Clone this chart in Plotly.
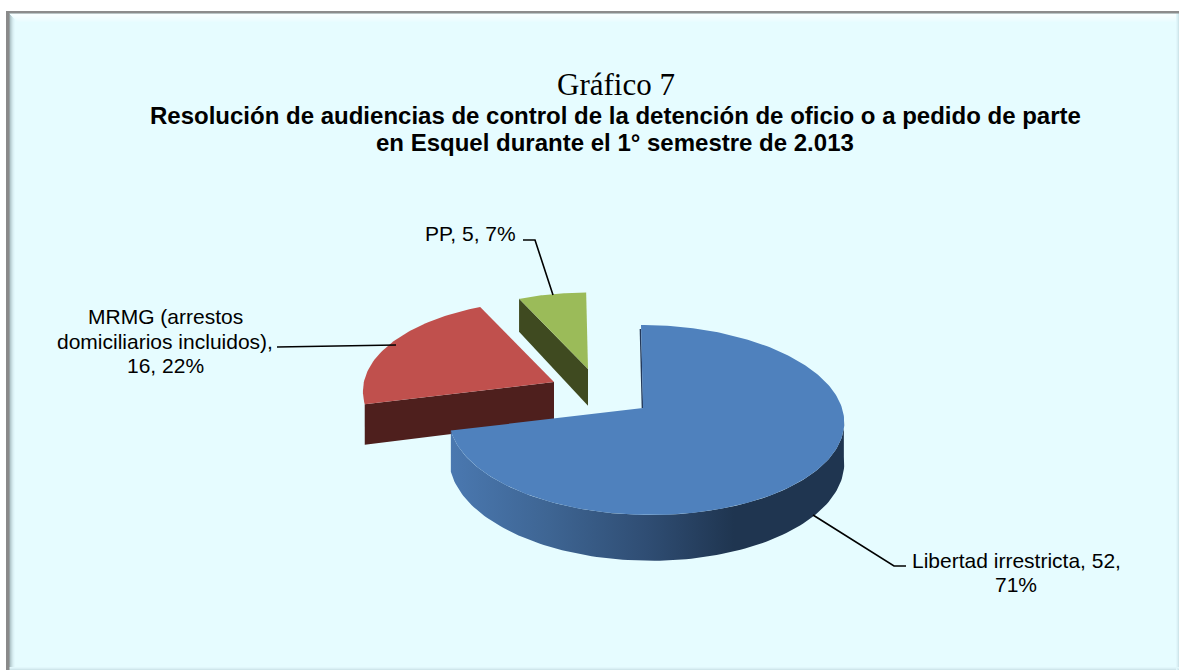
import numpy as np
import plotly.graph_objects as go

# ---- data ----
categories = ["Libertad irrestricta", "MRMG (arrestos domiciliarios incluidos)", "PP"]
counts = [52, 16, 5]
percent_labels = ["71%", "22%", "7%"]
title_top = "Gráfico 7"
title_lines = [
    "Resolución de audiencias de control de la detención de oficio o a pedido de parte",
    "en Esquel durante el 1° semestre de 2.013",
]

# ---- style ----
top_colors = ["#4F81BD", "#C0504D", "#9BBB59"]
wall_colors = [None, "#4E1F1D", "#3F4A20"]
bg = "#E6FCFF"
W, H = 1179, 670

# ---- perspective model of the exploded pie (in figure pixels) ----
apex = [(643, 408), (554, 382), (588, 369)]
scale = [1.0, 0.985, 0.92]
K, B, A, DEPTH = 196.0, 93.5, 0.126, 40.0


def rim(i, theta_deg, r=1.0):
    t = np.radians(theta_deg)
    X, Y = r * np.sin(t), r * np.cos(t)
    den = 1 + A * Y
    x = apex[i][0] + scale[i] * (K * X / den + r * (3 * np.ones_like(t) - 5 * np.cos(t)))
    y = apex[i][1] - scale[i] * B * Y / den
    d = scale[i] * DEPTH / den
    return x, y, d


fractions = np.array(counts) / sum(counts)
edges = np.concatenate([[0], np.cumsum(fractions) * 360])

fig = go.Figure()


def poly(x, y, color, **kw):
    fig.add_trace(go.Scatter(x=list(x), y=list(y), mode="lines", fill="toself", fillcolor=color,
                             line=dict(width=0), hoverinfo="skip", showlegend=False, **kw))


# frame: panel and bevel
poly([6, W, W, 6], [11, 11, H, H], bg)
for k, c in enumerate(["#F8FEFF", "#F6FEFF", "#F4FEFF", "#F2FDFF", "#F0FDFF", "#EEFDFF", "#ECFCFF", "#E9FCFF"]):
    poly([9 + k, W, W, 9 + k + 3], [14 + k, 14 + k, 15 + k, 15 + k], c)
for k, c in enumerate(["#A4B8BC", "#B4CACE", "#C4DADE", "#D2E8EC", "#DCF2F6", "#E2F8FC"]):
    poly([9 + k, 10 + k, 10 + k, 9 + k], [14 + k, 14 + k, H, H], c)
for k, c in enumerate(["#CFE6EB", "#DAF0F5", "#E1F7FB"]):
    poly([W - 1 - k, W - k, W - k, W - 1 - k], [11, 11, H, H], c)
    poly([9, W, W, 9], [H - 1 - k, H - 1 - k, H - k, H - k], c)
poly([6, W, W, 6], [11, 11, 13.5, 13.5], "#8C8C8C")
poly([6, 9.5, 9.5, 6], [11, 11, H, H], "#8A8A8A")

# cut faces of the two detached slices (back ones first)
for i in (1, 2):
    x0, y0, d0 = rim(i, edges[i])
    ax, ay = apex[i]
    da = scale[i] * DEPTH
    poly([x0, ax, ax, x0], [y0, ay, ay + da, y0 + d0], wall_colors[i])

# top faces of the two detached slices
for i in (1, 2):
    th = np.linspace(edges[i], edges[i + 1], 60)
    x, y, _ = rim(i, th)
    poly(np.r_[apex[i][0], x], np.r_[apex[i][1], y], top_colors[i])

# curved wall of the large slice
th = np.linspace(95, edges[1], 120)
x, y, d = rim(0, th)
fig.add_trace(go.Scatter(
    x=np.r_[x, x[::-1]], y=np.r_[y, (y + d)[::-1]], mode="lines", fill="toself",
    fillgradient=dict(type="horizontal", colorscale=[
        [0.0, "#4A78B0"], [0.25, "#3E6593"], [0.5, "#2F4D73"], [0.72, "#1F3550"], [1.0, "#1F3550"]]),
    line=dict(width=0), hoverinfo="skip", showlegend=False))

# thin cut edge and top face of the large slice
xt, yt, _ = rim(0, np.array([0.0]))
fig.add_trace(go.Scatter(x=[xt[0] - 0.6, apex[0][0] - 0.6], y=[yt[0] + 4, apex[0][1]], mode="lines",
                         line=dict(color="#24395A", width=1.5), hoverinfo="skip", showlegend=False))
th = np.linspace(edges[0], edges[1], 240)
x, y, _ = rim(0, th)
poly(np.r_[apex[0][0], x], np.r_[apex[0][1], y], top_colors[0])

# leader lines
leaders = [
    ([906, 894, 813], [566, 566, 515]),
    ([277, 396], [347, 345]),
    ([523, 535, 553], [240, 240, 295]),
]
for lx, ly in leaders:
    fig.add_trace(go.Scatter(x=lx, y=ly, mode="lines", line=dict(color="#000000", width=1.6),
                             hoverinfo="skip", showlegend=False))


def text(x, y, s, size, family, bold=False, anchor="center"):
    fig.add_annotation(x=x, y=y, xref="x", yref="y", text=f"<b>{s}</b>" if bold else s, showarrow=False,
                       xanchor=anchor, yanchor="middle",
                       font=dict(size=size, family=family, color="#000000"))


SANS = "Liberation Sans"
text(615.5, 84, title_top, 31, "Liberation Serif")
text(615, 115, title_lines[0], 24, SANS, True)
text(615, 142, title_lines[1], 24, SANS, True)

lib = f"{categories[0]}, {counts[0]},"
text(1016, 560, lib, 21, SANS)
text(1016, 584, percent_labels[0], 21, SANS)
text(165, 316, "MRMG (arrestos", 21, SANS)
text(165, 341, "domiciliarios incluidos),", 21, SANS)
text(165, 365, f"{counts[1]}, {percent_labels[1]}", 21, SANS)
text(470.5, 233, f"{categories[2]}, {counts[2]}, {percent_labels[2]}", 21, SANS)

fig.update_layout(
    width=W, height=H, margin=dict(l=0, r=0, t=0, b=0), paper_bgcolor="#FFFFFF", plot_bgcolor="#FFFFFF",
    showlegend=False,
    xaxis=dict(range=[0, W], visible=False, fixedrange=True),
    yaxis=dict(range=[H, 0], visible=False, fixedrange=True),
)
fig.write_html("out.html", config={"displayModeBar": False},
               post_script="document.body.style.margin='0';document.body.style.overflow='hidden';")
